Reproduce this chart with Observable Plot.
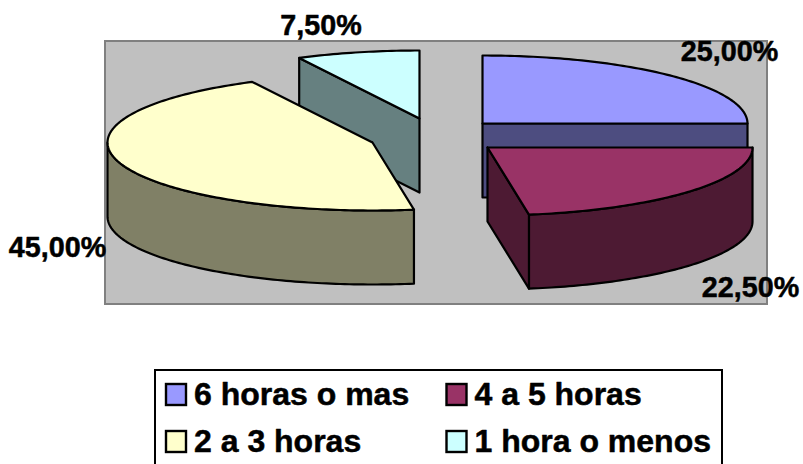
<!DOCTYPE html>
<html>
<head>
<meta charset="utf-8">
<script src="https://cdn.jsdelivr.net/npm/d3@7"></script>
<script src="https://cdn.jsdelivr.net/npm/@observablehq/plot@0.6"></script>
<style>html,body{margin:0;padding:0;background:#fff}svg{display:block}</style>
</head>
<body>
<div id="chart"></div>
<script>
// Data
const categories = ["6 horas o mas", "4 a 5 horas", "2 a 3 horas", "1 hora o menos"];
const shares = [25.0, 22.5, 45.0, 7.5];
const shareLabels = ["25,00%", "22,50%", "45,00%", "7,50%"];
const topColors = ["#9999FF", "#993366", "#FFFFCC", "#CCFFFF"];
const wallColors = ["#4D4D80", "#4D1A33", "#808066", "#668080"];

// Layout of the exploded 3D pie, in the chart's x/y scale units
const W = 803, H = 464;
const RX = 265, RY = 68, DEPTH = 74;
const apexes = [[482, 123], [487, 147], [372, 142], [419, 118]];
const labelAt = [[729, 51], [750, 287], [57, 247], [320.5, 25]];
const frame = {x1: 105, x2: 767, y1: 41, y2: 304};
const legendBox = {x1: 155, x2: 722, y1: 370, y2: 472}; // runs past the bottom of the picture, as in the reference
const legendAt = [[166, 394.5], [446.5, 394.5], [166, 441.5], [446.5, 441.5]];

// Angles derive from shares; 0° points right, clockwise on screen, first slice starts at 270°
let acc = 270;
const slices = shares.map((s, i) => {
  const a0 = acc, a1 = acc + s * 3.6;
  acc = a1;
  return {i, a0, a1, ax: apexes[i][0], ay: apexes[i][1]};
});
const pt = (sl, deg, dz = 0) => ({
  x: sl.ax + RX * Math.cos(deg * Math.PI / 180),
  y: sl.ay + RY * Math.sin(deg * Math.PI / 180) + dz
});
const arc = (sl, a0, a1, dz = 0) => {
  const n = Math.max(2, Math.round(Math.abs(a1 - a0)));
  return d3.range(n + 1).map(k => pt(sl, a0 + (a1 - a0) * k / n, dz));
};
const closed = p => [...p, p[0]];
const topFace = sl => closed([{x: sl.ax, y: sl.ay}, ...arc(sl, sl.a0, sl.a1)]);
const outerWall = (sl, a0, a1) => closed([...arc(sl, a0, a1), ...arc(sl, a1, a0, DEPTH)]);
const cutWall = (sl, deg) => closed([
  {x: sl.ax, y: sl.ay}, pt(sl, deg), pt(sl, deg, DEPTH), {x: sl.ax, y: sl.ay + DEPTH}
]);

const [blue, maroon, yellow, cyan] = slices;
const polys = [
  [cutWall(cyan, cyan.a0), wallColors[3]],
  [topFace(cyan), topColors[3]],
  [cutWall(blue, blue.a1), wallColors[0]],
  [topFace(blue), topColors[0]],
  [outerWall(yellow, yellow.a0, 540), wallColors[2]],
  [topFace(yellow), topColors[2]],
  [outerWall(maroon, maroon.a0, maroon.a1), wallColors[1]],
  [cutWall(maroon, maroon.a1), wallColors[1]],
  [topFace(maroon), topColors[1]]
];

const labelRows = shareLabels.map((t, i) => ({t, x: labelAt[i][0], y: labelAt[i][1]}));
const legendRows = categories.map((c, i) => ({c, color: topColors[i], x: legendAt[i][0], y: legendAt[i][1]}));
const font = {fontFamily: "Liberation Sans, Arial, sans-serif", fontWeight: "bold", fill: "#000"};

const chart = Plot.plot({
  width: W, height: H,
  margin: 0,
  x: {domain: [0, W], range: [0, W], axis: null},
  y: {domain: [0, H], range: [0, H], axis: null},
  style: {background: "#fff"},
  marks: [
    Plot.rect([frame], {x1: "x1", x2: "x2", y1: "y1", y2: "y2", fill: "#C0C0C0", stroke: "#808080", strokeWidth: 2}),
    ...polys.map(([p, color]) => Plot.line(p, {
      x: "x", y: "y", fill: color, stroke: "#000", strokeWidth: 2.2, strokeLinejoin: "round", curve: "linear"
    })),
    Plot.text(labelRows, {x: "x", y: "y", text: "t", fontSize: 28.7, textAnchor: "middle", lineAnchor: "middle", stroke: "#000", strokeWidth: 0.5, ...font}),
    Plot.rect([legendBox], {x1: "x1", x2: "x2", y1: "y1", y2: "y2", fill: "#fff", stroke: "#000", strokeWidth: 2}),
    Plot.rect(legendRows, {
      x1: "x", x2: d => d.x + 20, y1: d => d.y - 10.5, y2: d => d.y + 10.5,
      fill: d => d.color, stroke: "#000", strokeWidth: 2.4
    }),
    Plot.text(legendRows, {x: d => d.x + 27.5, y: "y", text: "c", fontSize: 32, textAnchor: "start", lineAnchor: "middle", stroke: "#000", strokeWidth: 0.5, ...font})
  ]
});
document.getElementById("chart").append(chart);
</script>
</body>
</html>
